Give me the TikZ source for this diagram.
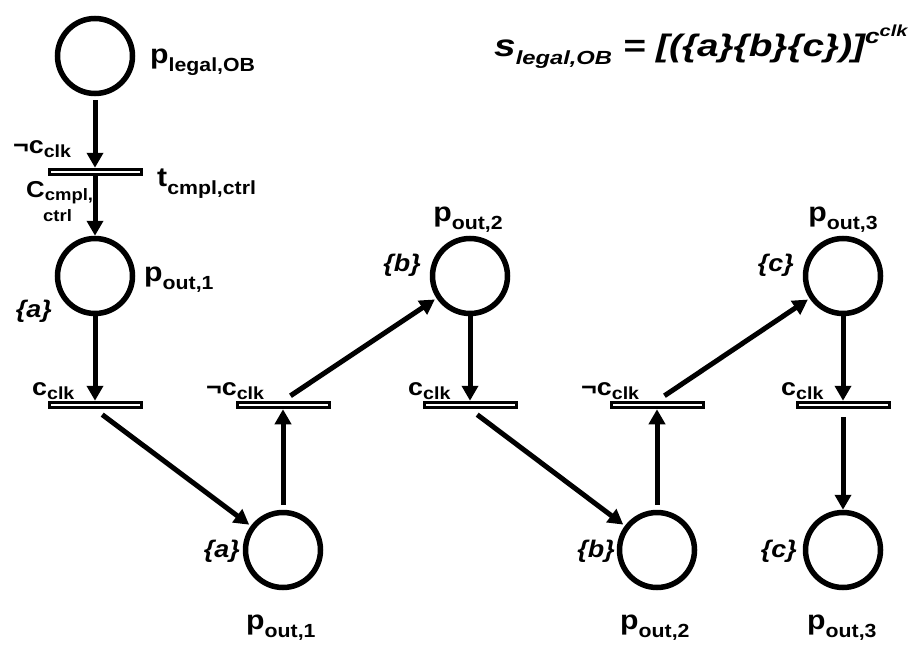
\documentclass[tikz,border=0pt]{standalone}
\usepackage{fontspec}
\setmainfont{Liberation Sans}[FakeStretch=1.12]
\newfontfamily\wideface{Liberation Sans}[FakeStretch=1.25]
\usetikzlibrary{arrows.meta,shapes.geometric}

\newcommand{\bigsub}[2]{{\fontsize{27}{27}\selectfont #1}\raisebox{-8pt}{\fontsize{19}{19}\selectfont #2}}
\newcommand{\smallsub}[2]{{\fontsize{24}{24}\selectfont #1}\raisebox{-4pt}{\fontsize{17.5}{17.5}\selectfont #2}}
\newcommand{\tok}[1]{{\fontsize{24}{24}\selectfont\itshape\{#1\}}}

\tikzset{
  place/.style={circle, draw, line width=5.5pt, minimum size=75pt, inner sep=0pt},
  trans/.style={rectangle, draw, line width=3pt, minimum width=92pt, minimum height=5.5pt, inner sep=0pt},
  arc/.style={line width=5pt, -{Triangle[length=15pt,width=16pt]}},
  lbl/.style={inner sep=0pt, font=\bfseries},
}

\begin{document}
\begin{tikzpicture}[x=1pt,y=-1pt]
  \useasboundingbox (0,0) rectangle (912,650);

  % places
  \node[place] (pob) at (95,56) {};
  \node[place] (pa) at (95,276) {};
  \node[place] (pb) at (470,276) {};
  \node[place] (pc) at (843,276) {};
  \node[place] (qa) at (283,550) {};
  \node[place] (qb) at (657,550) {};
  \node[place] (qc) at (843,550) {};

  % transitions
  \node[trans] (tctrl) at (95,172) {};
  \node[trans] (t1) at (95,405) {};
  \node[trans] (n1) at (283,405) {};
  \node[trans] (t2) at (470,405) {};
  \node[trans] (n2) at (657,405) {};
  \node[trans] (t3) at (843,405) {};

  % labels
  \node[lbl, anchor=base west] (lob) at (150,64) {\bigsub{p}{legal,OB}};
  \node[lbl, anchor=base west] (lnot) at (13,153) {\smallsub{¬c}{clk}};
  \node[lbl, anchor=base west] (ltctrl) at (157,186) {\bigsub{t}{cmpl,ctrl}};
  \node[lbl, anchor=base west] (lcctrl) at (26,197) {{\fontsize{23}{23}\selectfont C}\raisebox{-3pt}{\fontsize{16.5}{16.5}\selectfont cmpl,}};
  \node[lbl, anchor=base west] (lcctrl2) at (43,221) {\fontsize{16.5}{16.5}\selectfont ctrl};

  \node[lbl, anchor=base west] (lpa) at (144,281) {\bigsub{p}{out,1}};
  \node[lbl, anchor=base east] (ka) at (52,317) {\tok{a}};
  \node[lbl, anchor=base] (lpb) at (468,221) {\bigsub{p}{out,2}};
  \node[lbl, anchor=base east] (kb) at (421,271) {\tok{b}};
  \node[lbl, anchor=base] (lpc) at (843,221) {\bigsub{p}{out,3}};
  \node[lbl, anchor=base east] (kc) at (794,271) {\tok{c}};

  \node[lbl, anchor=base west] (lt1) at (32,395) {\smallsub{c}{clk}};
  \node[lbl, anchor=base west] (ln1) at (206,395) {\smallsub{¬c}{clk}};
  \node[lbl, anchor=base west] (lt2) at (408,395) {\smallsub{c}{clk}};
  \node[lbl, anchor=base west] (ln2) at (581,395) {\smallsub{¬c}{clk}};
  \node[lbl, anchor=base west] (lt3) at (781,395) {\smallsub{c}{clk}};

  \node[lbl, anchor=base east] (kqa) at (240,557) {\tok{a}};
  \node[lbl, anchor=base east] (kqb) at (615,557) {\tok{b}};
  \node[lbl, anchor=base east] (kqc) at (797,557) {\tok{c}};
  \node[lbl, anchor=base west] (lqa) at (246,629) {\bigsub{p}{out,1}};
  \node[lbl, anchor=base west] (lqb) at (620,629) {\bigsub{p}{out,2}};
  \node[lbl, anchor=base west] (lqc) at (807,629) {\bigsub{p}{out,3}};

  % sequence
  \node[lbl, anchor=base west, font=\wideface\bfseries\itshape] (slegal) at (494,57)
    {{\fontsize{31}{31}\selectfont s}\raisebox{-8pt}{\fontsize{19}{19}\selectfont legal,OB}{\fontsize{31}{31}\selectfont\ = [(\{a\}\{b\}\{c\})]}\raisebox{13pt}{\fontsize{21}{21}\selectfont c\raisebox{7pt}{\fontsize{16}{16}\selectfont clk}}};

  % arcs
  \draw[arc, shorten <=4pt] (pob) -- (tctrl);
  \draw[arc] (tctrl) -- (pa);
  \draw[arc] (pa) -- (t1);
  \draw[arc, shorten <=9pt, shorten >=2pt] (t1.south) -- (qa);
  \draw[arc, shorten <=5pt] (qa) -- (n1);
  \draw[arc, shorten <=9pt, shorten >=2pt] (n1.north) -- (pb);
  \draw[arc] (pb) -- (t2);
  \draw[arc, shorten <=9pt, shorten >=2pt] (t2.south) -- (qb);
  \draw[arc, shorten <=5pt] (qb) -- (n2);
  \draw[arc, shorten <=9pt, shorten >=2pt] (n2.north) -- (pc);
  \draw[arc] (pc) -- (t3);
  \draw[arc, shorten <=8pt] (t3) -- (qc);
\end{tikzpicture}
\end{document}
